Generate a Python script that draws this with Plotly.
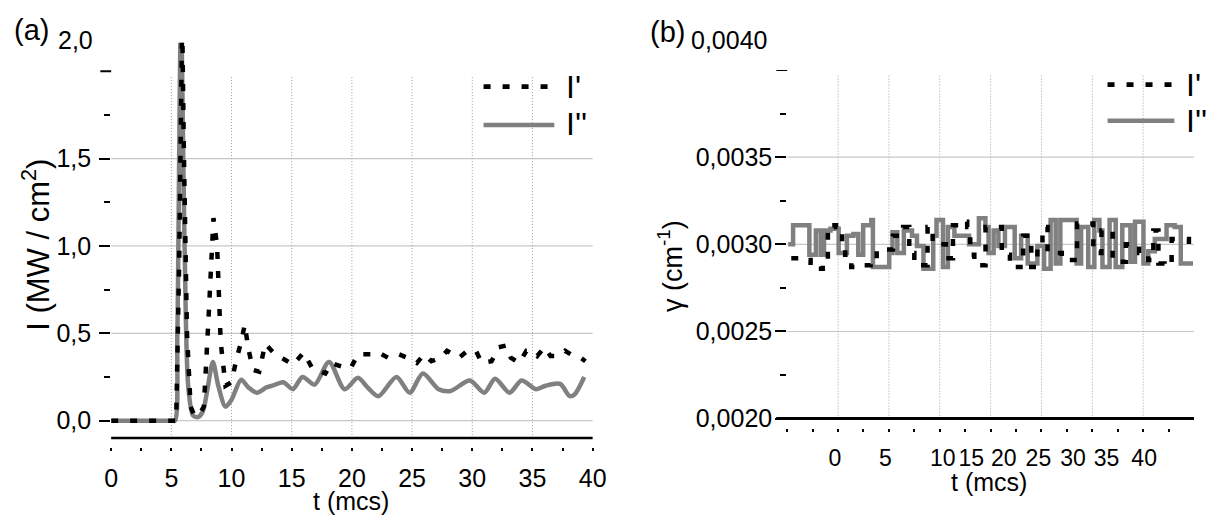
import plotly.graph_objects as go

W, H = 1208, 529
FONT = "Liberation Sans, Arial, Helvetica, sans-serif"

# ---------------- Panel (a): intensity I (MW/cm^2) vs t (mcs) ----------------
t_a_I1 = [0, 5.4, 5.65, 5.9, 6.05, 6.3, 6.6, 6.9, 7.3, 7.7, 8.1, 8.5, 8.8, 9.1, 9.5,
          10.0, 10.4, 10.8, 11.1, 11.4, 11.8, 12.3, 12.8, 13.6, 14.4, 15.1, 16.0, 16.7,
          17.8, 18.3, 19.1, 19.9, 20.5, 21.6, 22.2, 23.0, 23.9, 24.6, 25.4, 26.0, 26.6,
          27.4, 27.9, 28.9, 29.6, 30.3, 30.8, 31.6, 32.2, 32.8, 33.2, 33.9, 34.5, 34.9,
          35.4, 36.0, 36.5, 37.1, 37.7, 38.4, 39.0, 39.4]
I1_a = [0, 0, 0.9, 2.3, 1.5, 0.5, 0.08, 0.03, 0.03, 0.08, 0.6, 1.16, 1.0, 0.45, 0.2,
        0.22, 0.35, 0.45, 0.55, 0.41, 0.29, 0.28, 0.44, 0.38, 0.35, 0.32, 0.39, 0.30,
        0.27, 0.33, 0.31, 0.30, 0.38, 0.38, 0.39, 0.36, 0.38, 0.36, 0.33, 0.38, 0.34,
        0.36, 0.40, 0.36, 0.40, 0.40, 0.33, 0.34, 0.42, 0.43, 0.36, 0.33, 0.40, 0.40,
        0.37, 0.42, 0.37, 0.37, 0.40, 0.37, 0.36, 0.34]

t_a_I2 = [0, 5.0, 5.3, 5.5, 5.8, 6.1, 6.4, 6.8, 7.2, 7.6, 8.0, 8.45, 8.9, 9.5, 10.0,
          10.8, 11.4, 12.1, 12.9, 13.4, 14.3, 15.1, 15.9, 16.9, 18.1, 19.4, 20.5, 21.3,
          22.2, 23.7, 24.8, 25.9, 27.2, 28.2, 29.8, 31.0, 31.9, 33.1, 34.1, 35.3, 36.1,
          37.3, 38.1, 38.5, 39.3]
I2_a = [0, 0, 0, 0.5, 2.3, 1.0, 0.2, 0.03, 0.02, 0.05, 0.18, 0.335, 0.2, 0.08, 0.12,
        0.234, 0.19, 0.16, 0.19, 0.2, 0.22, 0.18, 0.25, 0.206, 0.336, 0.18, 0.245, 0.19,
        0.14, 0.25, 0.16, 0.27, 0.18, 0.17, 0.23, 0.16, 0.24, 0.16, 0.23, 0.18, 0.2,
        0.21, 0.14, 0.15, 0.25]

xa_tickvals = [0, 5, 10, 15, 20, 25, 30, 35, 40]
xa_ticktext = ["0", "5", "10", "15", "20", "25", "30", "35", "40"]
xa_minor = [2.5, 7.5, 12.5, 17.5, 22.5, 27.5, 32.5, 37.5]
xa_grid = [5, 10, 15, 20, 25, 30, 35]
ya_tickvals = [0, 0.5, 1.0, 1.5]
ya_ticktext = ["0,0", "0,5", "1,0", "1,5"]
ya_top = 2.0
ya_top_text = "2,0"
ya_minor = [0.25, 0.75, 1.25, 1.75]
ya_grid = [0, 0.5, 1.0, 1.5]

# ---------------- Panel (b): gamma (cm^-1) ----------------
t_b_I2 = [0.1, 0.58, 2.18, 2.82, 3.3, 3.62, 4.26, 5.06, 5.87, 6.51, 6.99, 7.47, 8.27,
          8.43, 10.03, 10.35, 10.83, 11.47, 12.27, 12.76, 13.4, 14.36, 14.68, 15.32,
          15.8, 16.44, 17.4, 17.88, 18.85, 19.49, 19.8, 20.3, 20.77, 21.41, 22.37, 23.0,
          23.65, 24.6, 25.26, 25.9, 26.4, 26.86, 28.46, 28.9, 29.6, 30.2, 30.7, 31.0,
          31.7, 32.3, 32.95, 33.75, 34.2, 35.03, 35.5, 36.15, 37.3, 38.1, 38.7, 39.9]
g2_b = [0.00300, 0.00311, 0.00294, 0.00308, 0.00294, 0.00308, 0.00309, 0.00295,
        0.00305, 0.00306, 0.00294, 0.00311, 0.00314, 0.00287, 0.00295, 0.00307,
        0.00295, 0.00308, 0.00305, 0.00299, 0.00286, 0.00305, 0.00314, 0.00287,
        0.00310, 0.00305, 0.00305, 0.00300, 0.00315, 0.00310, 0.00295, 0.00308,
        0.00299, 0.00310, 0.00292, 0.00305, 0.00289, 0.00299, 0.00286, 0.00314,
        0.00289, 0.00314, 0.00289, 0.00310, 0.00287, 0.00314, 0.00308, 0.00287,
        0.00314, 0.00287, 0.00311, 0.00290, 0.00313, 0.00289, 0.00296, 0.00303,
        0.00311, 0.00310, 0.00289, 0.00289]

t_b_I1 = [0.4, 1.2, 2.3, 3.5, 4.0, 4.8, 5.4, 5.7, 6.3, 7.1, 8.2, 8.8, 10.4, 11.4, 12.0,
          12.5, 13.8, 14.3, 15.6, 16.3, 17.2, 17.7, 18.0, 18.4, 18.8, 19.5, 21.1, 21.9,
          23.2, 24.0, 24.6, 25.1, 25.6, 27.0, 28.5, 30.1, 30.9, 32.0, 33.3, 34.6, 35.5,
          36.0, 36.5, 37.1, 37.8, 39.5]
g1_b = [0.00292, 0.00291, 0.00286, 0.00290, 0.00311, 0.00310, 0.00303, 0.00294,
        0.00287, 0.00288, 0.00290, 0.00297, 0.00305, 0.00310, 0.00295, 0.00288,
        0.00310, 0.00300, 0.00292, 0.00311, 0.00313, 0.00310, 0.00294, 0.00289,
        0.00288, 0.00310, 0.00294, 0.00287, 0.00305, 0.00287, 0.00300, 0.00310,
        0.00295, 0.00291, 0.00312, 0.00295, 0.00308, 0.00290, 0.00300, 0.00295,
        0.00291, 0.00308, 0.00289, 0.00288, 0.00303, 0.00296]

xb_label_pos = [4.7, 9.66, 15.3, 18.1, 21.3, 24.7, 28.1, 31.4, 35.1]
xb_ticktext = ["0", "5", "10", "15", "20", "25", "30", "35", "40"]
xb_minor = [0, 2.5, 5, 7.5, 10, 12.5, 15, 17.5, 20, 22.5, 25, 27.5, 30, 32.5, 35, 37.5]
xb_grid = [5, 10, 15, 20, 25, 30, 35]
yb_tickvals = [0.0020, 0.0025, 0.0030, 0.0035]
yb_ticktext = ["0,0020", "0,0025", "0,0030", "0,0035"]
yb_top = 0.0040
yb_top_text = "0,0040"
yb_minor = [0.00225, 0.00275, 0.00325, 0.00375]
yb_grid = [0.0025, 0.0030, 0.0035]

series_names = ["I'", "I''"]

GRAY = "#808080"
DASH = "7px,12px"

fig = go.Figure()
fig.add_trace(go.Scatter(x=t_a_I2, y=I2_a, mode="lines", name=series_names[1],
                         line=dict(color=GRAY, width=4.5, shape="spline", smoothing=0.8),
                         xaxis="x", yaxis="y"))
fig.add_trace(go.Scatter(x=t_a_I1, y=I1_a, mode="lines", name=series_names[0],
                         line=dict(color="black", width=4.5, dash=DASH),
                         xaxis="x", yaxis="y"))
fig.add_trace(go.Scatter(x=t_b_I2, y=g2_b, mode="lines", name=series_names[1],
                         line=dict(color=GRAY, width=4.5, shape="hv"),
                         xaxis="x2", yaxis="y2"))
fig.add_trace(go.Scatter(x=t_b_I1, y=g1_b, mode="lines", name=series_names[0],
                         line=dict(color="black", width=4.5, dash=DASH, shape="hv"),
                         xaxis="x2", yaxis="y2"))

TICK_SIZE = 25
tickfont = dict(family=FONT, size=TICK_SIZE, color="black")
tickfont_b = dict(family=FONT, size=23, color="black")


def minor_y(vals):
    return dict(tickmode="array", tickvals=vals, ticks="outside", ticklen=6,
                tickwidth=2, tickcolor="black", showgrid=False)


def minor_x(vals):
    return dict(tickmode="array", tickvals=vals, ticks="outside", ticklen=3,
                tickwidth=1.5, tickcolor="black", showgrid=False)


fig.update_layout(
    width=W, height=H,
    margin=dict(l=0, r=0, t=0, b=0),
    paper_bgcolor="white", plot_bgcolor="white",
    showlegend=False,
    font=dict(family=FONT, color="black"),
    xaxis=dict(domain=[106 / W, 596 / W], range=[0, 40], anchor="free",
               position=1 - 459 / H, showgrid=False, zeroline=False, showline=False,
               tickmode="array", tickvals=xa_tickvals, ticktext=xa_ticktext,
               tickangle=0, ticks="outside", ticklen=3, tickwidth=1.5, tickcolor="black",
               minor=minor_x(xa_minor), tickfont=tickfont, ticklabelstandoff=6),
    yaxis=dict(domain=[1 - 450 / H, 1 - 44 / H], range=[-0.1, 2.163], anchor="x",
               showgrid=False, zeroline=False, showline=False,
               tickmode="array", tickvals=ya_tickvals, ticktext=ya_ticktext,
               ticks="outside", ticklen=11, tickwidth=2, tickcolor="black",
               minor=minor_y(ya_minor), tickfont=tickfont, ticklabelstandoff=3),
    xaxis2=dict(domain=[794 / W, 1.0], range=[0, 40], anchor="free",
                position=1 - 440 / H, showgrid=False, zeroline=False, showline=False,
                tickmode="array", tickvals=xb_label_pos, ticktext=xb_ticktext,
                tickangle=0, ticks="outside", ticklen=3, tickwidth=1,
                tickcolor="rgba(0,0,0,0)",
                minor=minor_x(xb_minor), tickfont=tickfont_b, ticklabelstandoff=6),
    yaxis2=dict(domain=[1 - 430 / H, 1 - 72 / H], range=[0.0020, 0.0040], anchor="x2",
                showgrid=False, zeroline=False, showline=False,
                tickmode="array", tickvals=yb_tickvals, ticktext=yb_ticktext,
                ticks="outside", ticklen=11, tickwidth=2, tickcolor="black",
                minor=minor_y(yb_minor), tickfont=tickfont, ticklabelstandoff=-2),
)

shapes = []
VGRID = dict(color="#a0a0a0", width=1, dash="1px,2px")
HGRID = dict(color="#c8c8c8", width=1.2)
for v in xa_grid:
    shapes.append(dict(type="line", xref="x", yref="y", x0=v, x1=v, y0=-0.1, y1=1.973,
                       line=VGRID, layer="below"))
for v in ya_grid:
    shapes.append(dict(type="line", xref="x domain", yref="y", x0=0, x1=1, y0=v, y1=v,
                       line=HGRID, layer="below"))
for v in xb_grid:
    shapes.append(dict(type="line", xref="x2", yref="y2", x0=v, x1=v, y0=0.0020,
                       y1=0.003978, line=VGRID, layer="below"))
for v in yb_grid:
    shapes.append(dict(type="line", xref="x2 domain", yref="y2", x0=0, x1=1, y0=v, y1=v,
                       line=HGRID, layer="below"))
# top major tick marks (their labels sit higher, drawn as annotations)
shapes.append(dict(type="line", xref="x domain", yref="y", x0=-11 / 490, x1=0,
                   y0=ya_top, y1=ya_top, line=dict(color="black", width=2)))
shapes.append(dict(type="line", xref="x2 domain", yref="y2", x0=-11 / 414, x1=0,
                   y0=yb_top, y1=yb_top, line=dict(color="black", width=2)))
# bottom black base lines
shapes.append(dict(type="line", xref="x domain", yref="y domain", x0=0, x1=1, y0=0, y1=0,
                   line=dict(color="black", width=2.5)))
shapes.append(dict(type="line", xref="x2 domain", yref="y2 domain", x0=-0.027, x1=1,
                   y0=0, y1=0, line=dict(color="black", width=3)))


def px(x):
    return x / W


def py(y):
    return 1 - y / H


# legend samples (a) and (b)
for (x0, x1d, x1s, yd, ys) in [(485, 553, 557, 89, 128.5), (1120, 1186, 1188, 87, 124)]:
    shapes.append(dict(type="line", xref="paper", yref="paper", x0=px(x0), x1=px(x1d),
                       y0=py(yd), y1=py(yd), line=dict(color="black", width=4.7, dash=DASH)))
    shapes.append(dict(type="line", xref="paper", yref="paper", x0=px(x0), x1=px(x1s),
                       y0=py(ys), y1=py(ys), line=dict(color=GRAY, width=4.5)))
fig.update_layout(shapes=shapes)

annotations = []


def ann(text, x, y, size, xanchor="center", yanchor="middle", angle=0):
    annotations.append(dict(text=text, x=px(x), y=py(y), xref="paper", yref="paper",
                            showarrow=False, xanchor=xanchor, yanchor=yanchor,
                            textangle=angle, font=dict(family=FONT, size=size,
                                                       color="black")))


ann("(a)", 25, 31, 29)
ann("(b)", 672, 33, 29)
ann(ya_top_text, 90, 41, TICK_SIZE, xanchor="right")
ann(yb_top_text, 775, 41, TICK_SIZE, xanchor="right")
ann("t (mcs)", 350, 515, 25)
ann("t (mcs)", 999, 495, 25)
ann("I (MW / cm<sup>2</sup>)", 30, 251, 31, angle=-90)
ann("γ (cm<sup>-1</sup>)", 675, 273, 27, angle=-90)
ann(series_names[0], 567, 89, 32, xanchor="left")
ann(series_names[1], 567, 127, 32, xanchor="left")
ann(series_names[0], 1198, 87, 32, xanchor="left")
ann(series_names[1], 1198, 124, 32, xanchor="left")
fig.update_layout(annotations=annotations)

fig.write_html("out.html")
